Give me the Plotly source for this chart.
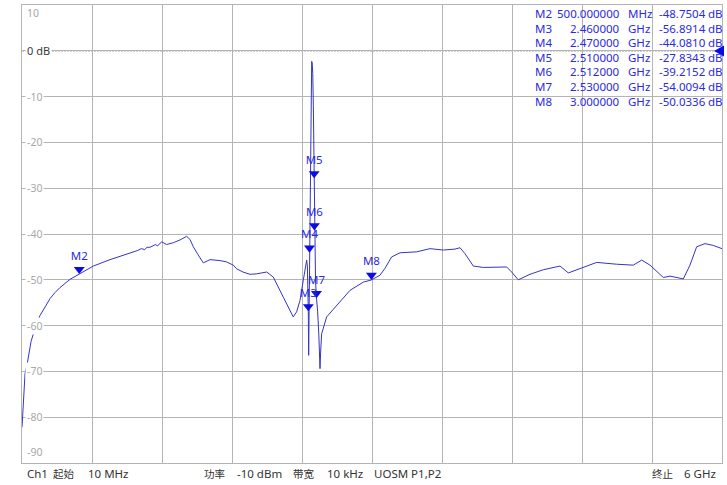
import plotly.graph_objects as go

# ---------------- data ----------------
freq_mhz = [10, 21, 27, 36, 55, 70, 87, 107, 130, 164, 207, 250, 292, 335, 421, 500,
            620, 763, 860, 962, 1000, 1030, 1060, 1080, 1105, 1130, 1150, 1170, 1205,
            1248, 1305, 1362, 1419, 1448, 1476, 1516, 1561,
            1619, 1704, 1761, 1818, 1847, 1901, 1961, 2018, 2104, 2160, 2246, 2331, 2360,
            2389, 2417, 2440, 2446, 2452, 2457, 2460, 2463, 2466, 2470, 2476, 2482, 2486,
            2489, 2493, 2498, 2503, 2507, 2510, 2512, 2516, 2522, 2530, 2540, 2550, 2556,
            2560, 2565, 2574, 2617, 2703, 2817, 2931, 3000, 3073, 3116, 3173, 3245, 3387,
            3501, 3615, 3715, 3758, 3801, 3872, 3957, 4157, 4200, 4257, 4357, 4471, 4614,
            4685, 4813, 4928, 5099, 5241, 5313, 5384, 5498, 5555, 5669, 5726, 5783, 5854,
            5925, 6000]
s21_db = [-82.2, -77.8, -74.0, -70.5, -68.3, -65.8, -63.5, -61.8, -59.8, -57.8, -55.8, -54.1,
          -52.8, -51.7, -49.9, -48.75, -47.0, -45.6, -44.8, -43.9, -43.6, -43.2, -43.4,
          -42.9, -42.9, -42.6, -42.3, -42.6, -41.7,
          -42.3, -41.9, -41.3,
          -40.5, -41.2, -42.8, -44.5, -46.3, -45.6, -45.8, -46.1, -46.8, -47.6, -48.3, -48.8,
          -48.7, -48.3, -49.4, -53.8, -58.1, -57.0, -54.5, -50.1, -46.8, -45.7, -47.0, -51.0,
          -56.9, -66.5, -57.0, -44.1, -38.0, -20.0, -6.0, -2.3, -2.6, -5.0, -12.0, -20.0,
          -27.8, -39.2, -46.0, -50.5, -54.0, -57.0, -62.0, -66.0, -69.4, -66.0, -61.8, -58.1,
          -55.6, -52.3, -50.5, -50.03, -49.0, -47.5, -45.0, -44.1, -43.9, -43.2, -43.5, -43.3,
          -43.0, -44.3, -47.0, -47.3, -47.2, -48.3, -50.0, -48.8, -47.8, -47.0, -48.5, -47.2,
          -46.2, -46.6, -46.8, -45.7, -46.8, -49.5, -49.2, -49.8, -46.8, -42.8, -42.1, -42.5,
          -43.2]

marker_names = ["M2", "M3", "M4", "M5", "M6", "M7", "M8"]
marker_freq_mhz = [500, 2460, 2470, 2510, 2512, 2530, 3000]
marker_db = [-48.7504, -56.8914, -44.0810, -27.8343, -39.2152, -54.0094, -50.0336]

y_ticks = [10, 0, -10, -20, -30, -40, -50, -60, -70, -80, -90]
x_start_mhz, x_stop_mhz = 10, 6000
footer_left = ["Ch1", "起始", "10 MHz"]
footer_mid = ["功率", "-10 dBm", "带宽", "10 kHz", "UOSM P1,P2"]
footer_right = ["终止", "6 GHz"]

# ---------------- layout constants ----------------
W, H = 727, 485
ML, MR, MT, MB = 22, 5, 5, 22
PW, PH = W - ML - MR, H - MT - MB
Y_MIN, Y_MAX = -90, 10
PX_PER_DB = PH / (Y_MAX - Y_MIN)

GRID = "#b4b4b4"
TRACE = "#3434c8"
MARK = "#0b0be6"
TXT_BLUE = "#2a2ae0"
FONT = "Noto Sans, Noto Sans CJK SC, sans-serif"
CJK = "Noto Sans CJK SC, sans-serif"


def px_x(px):
    return (px - ML) / PW


def px_y(py):
    return (H - MB - py) / PH


fig = go.Figure()

fig.add_trace(go.Scatter(x=freq_mhz, y=s21_db, mode="lines",
                         line=dict(color=TRACE, width=1), hoverinfo="skip",
                         showlegend=False))

TRI = 9.5
tri_off = (TRI / 2) / PX_PER_DB
fig.add_trace(go.Scatter(x=marker_freq_mhz, y=[v + tri_off for v in marker_db],
                         mode="markers+text", text=marker_names,
                         textposition="top center",
                         textfont=dict(family=FONT, size=11.5, color=TXT_BLUE),
                         marker=dict(symbol="triangle-down", size=TRI, color=MARK,
                                     line=dict(width=0)),
                         cliponaxis=False, showlegend=False, hoverinfo="skip"))

annotations = []
# y labels inside the plot
for v in y_ticks:
    if v == 0:
        txt, col, sz = "0 dB", "#3a3a3a", 11
    else:
        txt, col, sz = str(v), "#a8a8a8", 10.5
    yanchor, yshift = "middle", 0
    if v == Y_MAX:
        yanchor, yshift = "top", 1
    elif v == Y_MIN:
        yanchor, yshift = "bottom", 2
    annotations.append(dict(x=0, xref="paper", y=v, yref="y", text=txt,
                            showarrow=False, xanchor="left", yanchor=yanchor,
                            xshift=3, yshift=yshift,
                            bgcolor="white" if v not in (Y_MAX, Y_MIN) else None,
                            borderpad=1, font=dict(family=FONT, size=sz, color=col)))

# marker table
row_y0, row_dy = 14, 14.5
for i, (n, f, v) in enumerate(zip(marker_names, marker_freq_mhz, marker_db)):
    yy = px_y(row_y0 + i * row_dy)
    if f < 1000:
        fv, unit = f"{f:.6f}", "MHz"
    else:
        fv, unit = f"{f / 1000:.6f}", "GHz"
    cols = [(533, "left", n), (622, "right", fv), (626, "left", unit),
            (657, "left", f"{v:.4f}"), (706, "left", "dB")]
    for px, anc, t in cols:
        annotations.append(dict(x=px_x(px), xref="paper", y=yy, yref="paper", text=t,
                                showarrow=False, xanchor=anc, yanchor="middle",
                                font=dict(family=FONT, size=11.5, color=TXT_BLUE)))

# footer (pixel x, anchor, text, is_cjk)
foot_y = px_y(473)
foot_pos = [(25, "left", footer_left[0], False), (51, "left", footer_left[1], True),
            (86, "left", footer_left[2], False),
            (202, "left", footer_mid[0], True), (235, "left", footer_mid[1], False),
            (291, "left", footer_mid[2], True), (325, "left", footer_mid[3], False),
            (372, "left", footer_mid[4], False),
            (650, "left", footer_right[0], True), (718, "right", footer_right[1], False)]
for px, anc, t, cjk in foot_pos:
    annotations.append(dict(x=px_x(px), xref="paper", y=foot_y, yref="paper", text=t,
                            showarrow=False, xanchor=anc, yanchor="middle",
                            font=dict(family=CJK if cjk else FONT, size=10.5 if cjk else 11.5,
                                      color="#333333")))

shapes = [
    # reference line at 0 dB
    dict(type="line", xref="paper", yref="y", x0=0, x1=0.99, y0=0, y1=0,
         line=dict(color="#666666", width=1, dash="2px,1px"), layer="between"),
    # reference level pointer at right edge
    dict(type="path", xref="paper", yref="paper",
         path=f"M {px_x(714)} {px_y(51)} L {px_x(724)} {px_y(45.5)} L {px_x(724)} {px_y(56.5)} Z",
         fillcolor=MARK, line=dict(width=0), layer="above"),
]

fig.update_layout(
    width=W, height=H,
    margin=dict(l=ML, r=MR, t=MT, b=MB),
    paper_bgcolor="white", plot_bgcolor="white",
    showlegend=False,
    xaxis=dict(range=[x_start_mhz, x_stop_mhz], tick0=x_start_mhz,
               dtick=(x_stop_mhz - x_start_mhz) / 10, showticklabels=False,
               showgrid=True, gridcolor=GRID, gridwidth=1, zeroline=False,
               showline=True, linecolor=GRID, linewidth=1, mirror=True, ticks=""),
    yaxis=dict(range=[Y_MIN, Y_MAX], tick0=0, dtick=10, showticklabels=False,
               showgrid=True, gridcolor=GRID, gridwidth=1, zeroline=False,
               showline=True, linecolor=GRID, linewidth=1, mirror=True, ticks=""),
    annotations=annotations,
    shapes=shapes,
)

fig.write_html("out.html", config={"displayModeBar": False},
               post_script="document.body.style.margin='0';document.body.style.padding='0';")
